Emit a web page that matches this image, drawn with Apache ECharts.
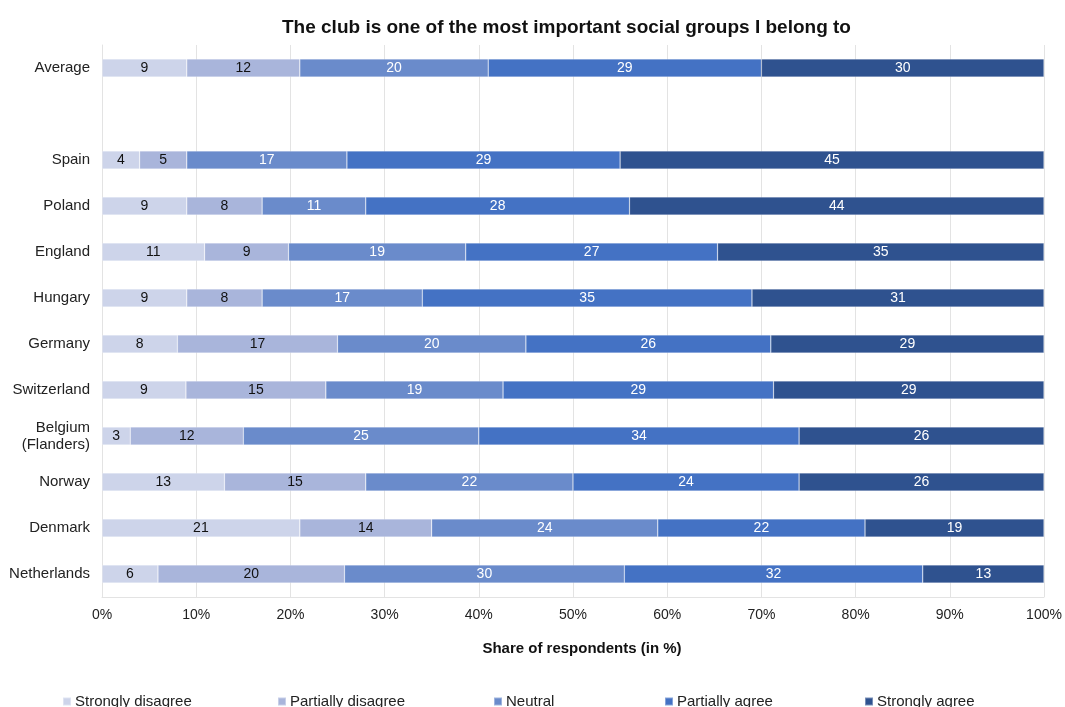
<!DOCTYPE html>
<html><head><meta charset="utf-8">
<script src="https://cdn.jsdelivr.net/npm/echarts@6/dist/echarts.min.js"></script>
<style>html,body{margin:0;padding:0;background:#fff}#c{width:1065px;height:707px}</style>
</head><body><div id="c"></div>
<script>
const categories = ['Average', '', 'Spain', 'Poland', 'England', 'Hungary', 'Germany', 'Switzerland', 'Belgium\n(Flanders)', 'Norway', 'Denmark', 'Netherlands'];
const seriesNames = ['Strongly disagree', 'Partially disagree', 'Neutral', 'Partially agree', 'Strongly agree'];
const stronglyDisagree  = [9, null, 4, 9, 11, 9, 8, 9, 3, 13, 21, 6];
const partiallyDisagree = [12, null, 5, 8, 9, 8, 17, 15, 12, 15, 14, 20];
const neutral           = [20, null, 17, 11, 19, 17, 20, 19, 25, 22, 24, 30];
const partiallyAgree    = [29, null, 29, 28, 27, 35, 26, 29, 34, 24, 22, 32];
const stronglyAgree     = [30, null, 45, 44, 35, 31, 29, 29, 26, 26, 19, 13];
const xTicks = [0, 10, 20, 30, 40, 50, 60, 70, 80, 90, 100];

const FONT = 'Liberation Sans, Arial, sans-serif';
const all = [stronglyDisagree, partiallyDisagree, neutral, partiallyAgree, stronglyAgree];
const colors = ['#cdd4ea', '#a9b5db', '#6a8bcb', '#4472c4', '#2f528f'];
const labelColors = ['#111', '#111', '#fff', '#fff', '#fff'];
const totals = categories.map((c, i) => all.reduce((s, a) => s + (a[i] || 0), 0));

const series = all.map((arr, k) => ({
  name: seriesNames[k],
  type: 'bar',
  stack: 'total',
  barWidth: 18,
  data: arr.map((v, i) => v == null ? '-' : {value: v / totals[i] * 100, raw: v}),
  itemStyle: {color: colors[k], borderColor: 'rgba(255,255,255,0.35)', borderWidth: 0.6},
  label: {
    show: true, position: 'inside', color: labelColors[k],
    fontFamily: FONT, fontSize: 14,
    formatter: p => p.data && p.data.raw != null ? String(p.data.raw) : ''
  }
}));

const legendLefts = [62, 277, 493, 664, 864];
const legends = seriesNames.map((n, k) => ({
  data: [n], left: legendLefts[k], top: 694, itemWidth: 8, itemHeight: 8, itemGap: 2,
  icon: 'rect', textStyle: {fontFamily: FONT, fontSize: 15, color: '#222', padding: [0,0,0,-1]},
  padding: 0, selectedMode: false
}));

const chart = echarts.init(document.getElementById('c'));
chart.setOption({
  animation: false,
  title: {
    text: 'The club is one of the most important social groups I belong to',
    left: 277, top: 13,
    textStyle: {fontFamily: FONT, fontSize: 19, fontWeight: 'bold', color: '#111'}
  },
  legend: legends,
  grid: {left: 102, right: 21, top: 45, bottom: 110, containLabel: false},
  xAxis: {
    type: 'value', min: 0, max: 100, interval: 10,
    axisLabel: {formatter: v => xTicks.includes(v) ? v + '%' : '', fontFamily: FONT, fontSize: 14, color: '#222', margin: 11},
    splitLine: {show: true, lineStyle: {color: '#e3e3e3', width: 1}},
    axisLine: {show: true, lineStyle: {color: '#e3e3e3'}}, axisTick: {show: false},
    name: 'Share of respondents (in %)', nameLocation: 'middle', nameGap: 44,
    nameTextStyle: {fontFamily: FONT, fontSize: 15, fontWeight: 'bold', color: '#111', padding: [0, 0, 0, 18]}
  },
  yAxis: {
    type: 'category', data: categories, inverse: true,
    axisLine: {show: true, lineStyle: {color: '#e3e3e3'}}, axisTick: {show: false},
    axisLabel: {fontFamily: FONT, fontSize: 15, color: '#222', margin: 12, lineHeight: 17},
    splitLine: {show: false}
  },
  series: series
});
</script></body></html>
